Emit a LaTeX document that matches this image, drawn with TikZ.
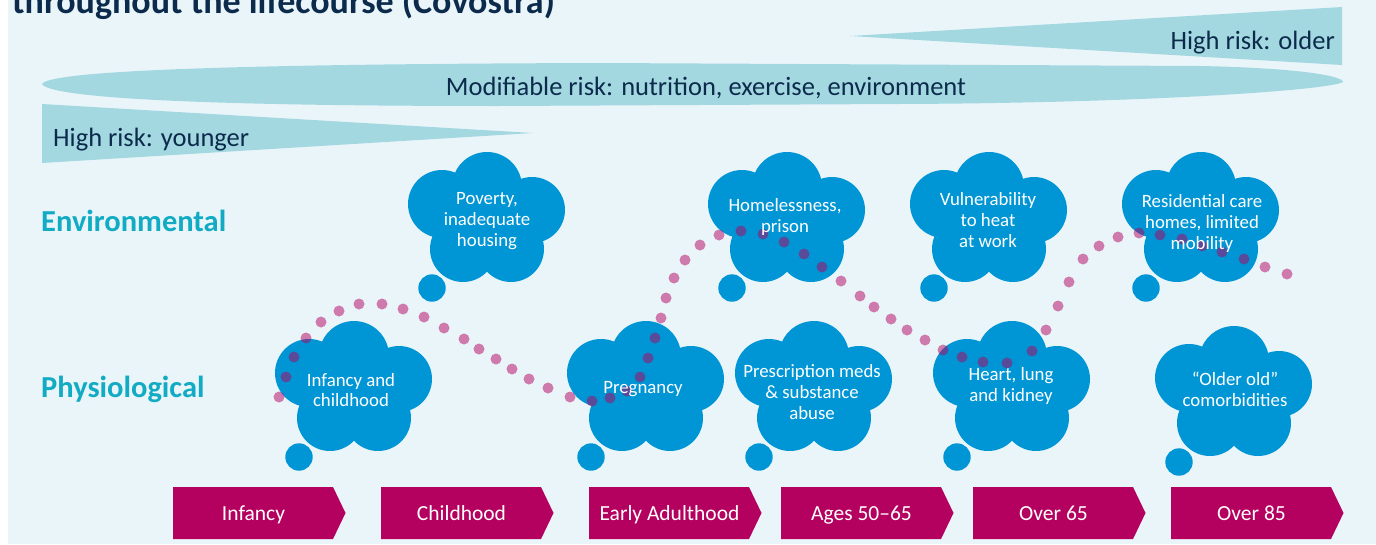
\documentclass[tikz,border=0pt]{standalone}
\usepackage{fontspec}
\setmainfont{Carlito}
\definecolor{panelbg}{HTML}{EAF5FA}
\definecolor{wedgeblue}{HTML}{A4D8E1}
\definecolor{navy}{HTML}{0C2B4C}
\definecolor{teallabel}{HTML}{12ABC4}
\definecolor{cloudblue}{HTML}{0096D6}
\definecolor{stagemag}{HTML}{B4005F}
\tikzset{
  wedge/.style={fill=wedgeblue},
  bandtext/.style={text=navy, font=\fontsize{26.5}{30}\selectfont, inner sep=0pt},
  rowlabel/.style={text=teallabel, font=\bfseries\fontsize{30.5}{34}\selectfont, inner sep=0pt, anchor=base west},
  cloudfill/.style={fill=cloudblue},
  cloudtext/.style={text=white, font=\fontsize{18.8}{20.7}\selectfont, align=center, inner sep=0pt, anchor=base},
  stagebox/.style={fill=stagemag},
  stagetext/.style={text=white, font=\fontsize{21.5}{24}\selectfont, inner sep=0pt, anchor=base},
  lifedot/.style={fill=stagemag, fill opacity=0.5},
}
\newcommand\cloudshape[2]{%
  \begin{scope}[shift={(#1,#2)}]
    \fill[cloudfill] (0,-29) circle[radius=35pt] (-45,-12) circle[radius=34pt]
      (45,-6) circle[radius=33pt] (-24,33) circle[radius=33pt] (24,33) circle[radius=33pt]
      (0,4) circle[radius=40pt] (-55,72) circle[radius=13.7pt];
  \end{scope}}
\newcommand\stageshape[1]{%
  \fill[stagebox] (#1,487) -- ++(160,0) -- ++(12.5,26) -- ++(-12.5,26) -- ++(-160,0) -- cycle;}
\begin{document}
\begin{tikzpicture}[x=1pt,y=-1pt]
\useasboundingbox (0,0) rectangle (1376,544);
\clip (0,0) rectangle (1376,544);
\fill[white] (0,0) rectangle (1376,544);
\fill[panelbg] (8,0) rectangle (1376,544);

% title (cut off at top)
\node[anchor=base west, text=navy, font=\bfseries\fontsize{36}{40}\selectfont, inner sep=0pt] (title) at (12,13) {throughout the lifecourse (Covostra)};

% wedges
\fill[wedge] (850,36) -- (1342,7) -- (1342,65) -- cycle;
\fill[wedge] (42,84) .. controls (50,70) and (250,64) .. (600,63) -- (1200,66)
  .. controls (1300,68) and (1343,76) .. (1343,82)
  .. controls (1330,90) and (1150,103) .. (900,104) -- (500,106)
  .. controls (200,106) and (50,98) .. (42,84) -- cycle;
\fill[wedge] (42,104) -- (533,133) -- (42,163) -- cycle;
\node[bandtext, anchor=base east] (older) at (1335,49) {High risk: older};
\node[bandtext, anchor=base] (modifiable) at (706,95) {Modifiable risk: nutrition, exercise, environment};
\node[bandtext, anchor=base west] (younger) at (53,146) {High risk: younger};

% row labels
\node[rowlabel] (env) at (41,231.5) {Environmental};
\node[rowlabel] (phys) at (41,397) {Physiological};

% clouds
\cloudshape{487}{216}
\cloudshape{354}{385}
\cloudshape{646}{385}
\cloudshape{787}{216}
\cloudshape{814}{385}
\cloudshape{989}{216}
\cloudshape{1201}{216}
\cloudshape{1012}{385}
\cloudshape{1234}{390}

% dotted life course line
\foreach \p in {(279,397), (286,377), (294,357), (306,338), (321,322), (339,311), (359,304), (382,304),
  (403,309), (424,317), (444,328), (464,339), (479,349), (496,359), (512,369), (529,379), (548,388),
  (570,397), (592,401), (610,398), (627,391), (640,377), (648,358), (655,338), (661,318), (666,298),
  (674,278), (685,260), (700,245), (719,235), (741,231), (763,234), (784,242), (804,254), (822,267),
  (841,281), (860,296), (874,307), (891,319), (907,330), (925,340), (943,350), (962,357), (983,362),
  (1007,363), (1032,351), (1046,330), (1058,306), (1069,282), (1083,259), (1099,246), (1118,237),
  (1139,233), (1160,235), (1182,239), (1202,246), (1222,252), (1244,259), (1265,267), (1287,274)}
  \fill[lifedot] \p circle[radius=5.5pt];

% cloud texts (anchor at baseline of last line)
\node[cloudtext] (poverty) at (487,246) {Poverty,\\inadequate\\housing};
\node[cloudtext] (infancyc) at (351,406.7) {Infancy and\\childhood};
\node[cloudtext] (pregnancy) at (643,393) {Pregnancy};
\node[cloudtext] (homeless) at (785,232) {Homelessness,\\prison};
\node[cloudtext] (prescription) at (812,419) {Prescription meds\\\& substance\\abuse};
\node[cloudtext] (vulnerability) at (988,247) {Vulnerability\\to heat\\at work};
\node[cloudtext] (residential) at (1202,249) {Residential care\\homes, limited\\mobility};
\node[cloudtext] (heart) at (1011,401) {Heart, lung\\and kidney};
\node[cloudtext] (olderold) at (1235,406) {``Older old''\\comorbidities};

% life stages
\stageshape{173}
\stageshape{381}
\stageshape{589}
\stageshape{781}
\stageshape{973}
\stageshape{1171}
\node[stagetext] (s1) at (253.5,520) {Infancy};
\node[stagetext] (s2) at (461.5,520) {Childhood};
\node[stagetext] (s3) at (669.5,520) {Early Adulthood};
\node[stagetext] (s4) at (861.5,520) {Ages 50–65};
\node[stagetext] (s5) at (1053.5,520) {Over 65};
\node[stagetext] (s6) at (1251.5,520) {Over 85};
\end{tikzpicture}
\end{document}
